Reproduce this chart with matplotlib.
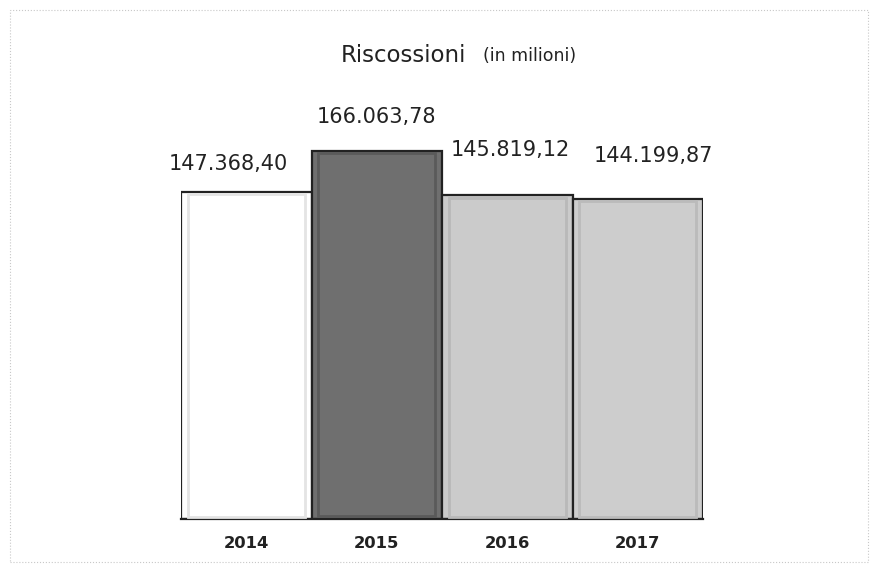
import numpy as np
import matplotlib.pyplot as plt
from matplotlib.patches import Rectangle

# data (millions)
years = ['2014', '2015', '2016', '2017']
riscossioni = [147368.40, 166063.78, 145819.12, 144199.87]
value_labels = ['147.368,40', '166.063,78', '145.819,12', '144.199,87']
bar_colors = ['#ffffff', '#6f6f6f', '#cbcbcb', '#cdcdcd']
inner_colors = ['#e4e4e4', '#5a5a5a', '#b9b9b9', '#bbbbbb']
# label nudges in pixels (labels were hand placed in the original)
label_dx = [-18, 0, 3, 16]
label_dy = [28, 34, 45, 43]

W, H = 875, 569
fig = plt.figure(figsize=(W / 100, H / 100), dpi=100)
plt.rcParams['font.family'] = ['DejaVu Sans']

# faint scanned frame around the chart
fig.patches.append(Rectangle((10 / W, 7 / H), 858 / W, 552 / H, transform=fig.transFigure,
                             fill=False, edgecolor='#c8c8c8', linewidth=0.8, linestyle=':'))

ymax = 180000
ax = fig.add_axes([181 / W, (H - 519) / H, 522 / W, (ymax * 327 / 147368.4) / H])
X = np.arange(len(years))

ax.bar(X, riscossioni, width=1.0, color=bar_colors, edgecolor='#222222', linewidth=1.6, zorder=2)
# bevel look: inner frame on each bar
ax.bar(X, np.array(riscossioni) * 0.985, width=0.9, bottom=np.array(riscossioni) * 0.0075,
       color='none', edgecolor=inner_colors, linewidth=2.0, zorder=3)

for x, v, lab, dx, dy in zip(X, riscossioni, value_labels, label_dx, label_dy):
    ax.annotate(lab, (x, v), xytext=(dx, dy), textcoords='offset pixels',
                ha='center', va='center', fontsize=15, color='#222222')

ax.set_xlim(-0.5, 3.5)
ax.set_ylim(0, ymax)
ax.set_xticks(X, years, fontsize=11.8, fontweight='bold', color='#222222')
ax.tick_params(axis='x', length=0, pad=12)
ax.set_yticks([])
for s in ['top', 'right', 'left']:
    ax.spines[s].set_visible(False)
ax.spines['bottom'].set_color('#222222')
ax.spines['bottom'].set_linewidth(1.6)
ax.patch.set_alpha(0)

fig.text(403 / W, 1 - 55 / H, 'Riscossioni', ha='center', va='center', fontsize=16.5, color='#222222')
fig.text(530 / W, 1 - 56 / H, '(in milioni)', ha='center', va='center', fontsize=12.5, color='#222222')

fig.savefig('out.png', dpi=100)
